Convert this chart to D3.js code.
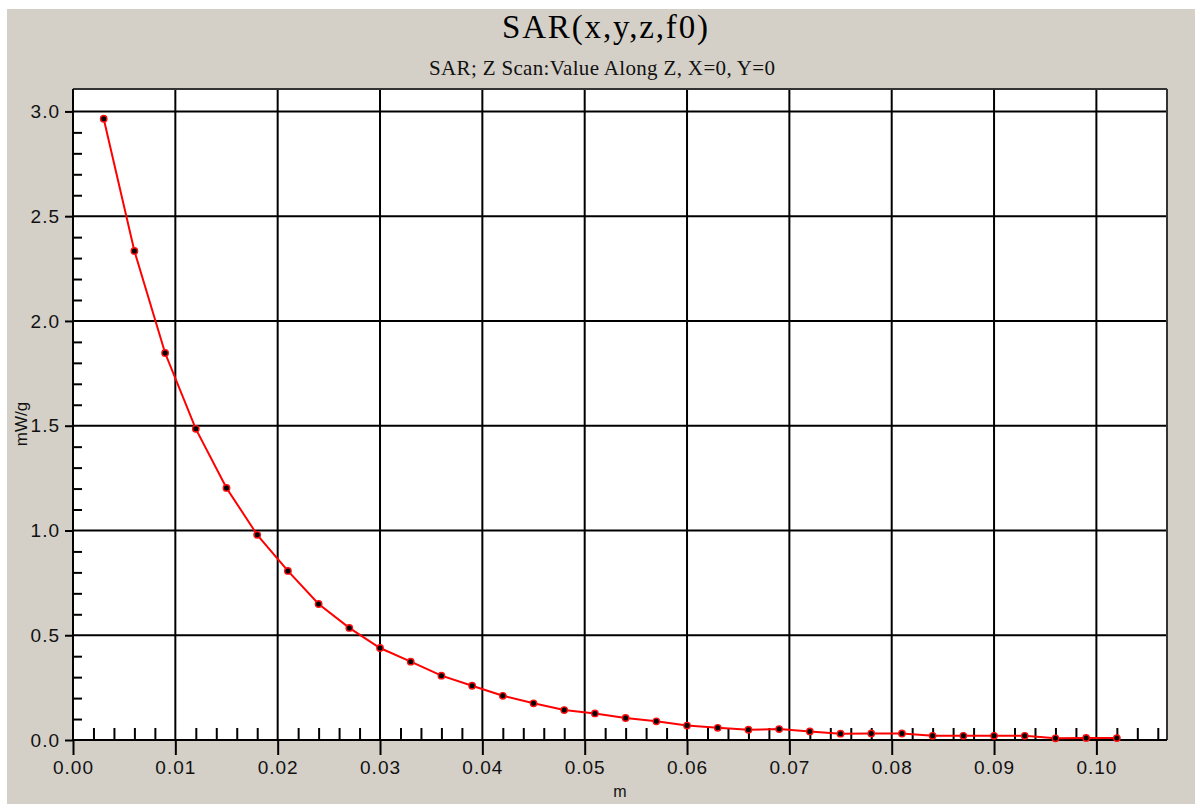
<!DOCTYPE html>
<html>
<head>
<meta charset="utf-8">
<script src="https://cdn.jsdelivr.net/npm/d3@7"></script>
<style>
html,body{margin:0;padding:0;background:#fff;overflow:hidden;}
svg{display:block;}
</style>
</head>
<body>
<svg id="chart" width="1195" height="804"></svg>
<script>
// ---- data ----
const titleText = "SAR(x,y,z,f0)";
const subtitleText = "SAR; Z Scan:Value Along Z, X=0, Y=0";
const xLabel = "m";
const yLabel = "mW/g";
const zPositions = [0.003,0.006,0.009,0.012,0.015,0.018,0.021,0.024,0.027,0.030,
  0.033,0.036,0.039,0.042,0.045,0.048,0.051,0.054,0.057,0.060,
  0.063,0.066,0.069,0.072,0.075,0.078,0.081,0.084,0.087,0.090,
  0.093,0.096,0.099,0.102];
const sarValues = [2.965,2.334,1.847,1.485,1.203,0.979,0.807,0.649,0.535,0.439,
  0.374,0.307,0.259,0.211,0.175,0.143,0.127,0.105,0.089,0.069,
  0.058,0.049,0.052,0.041,0.030,0.031,0.031,0.020,0.020,0.020,
  0.020,0.008,0.010,0.009];
const xMajorTicks = [0.00,0.01,0.02,0.03,0.04,0.05,0.06,0.07,0.08,0.09,0.10];
const yMajorTicks = [0.0,0.5,1.0,1.5,2.0,2.5,3.0];
const xDomain = [0, 0.1069];
const yDomain = [0, 3.107];

// ---- layout ----
const svg = d3.select("#chart");
const W = 1195, H = 804;
const pL = 73, pR = 1167, pT = 89, pB = 740;

svg.append("rect").attr("x",7).attr("y",9).attr("width",W-7).attr("height",H-9).attr("fill","#d4d0c8");
svg.append("rect").attr("x",pL).attr("y",pT).attr("width",pR-pL).attr("height",pB-pT).attr("fill","#fff");

const x = d3.scaleLinear().domain(xDomain).range([pL, pR]);
const y = d3.scaleLinear().domain(yDomain).range([pB, pT]);

const xMinor = d3.range(0, 107).filter(i => i % 2 === 0 && i % 10 !== 0).map(i => i/1000);
const yMinor = d3.range(0, 31).filter(i => i % 5 !== 0).map(i => i/10);

// grid
const g = svg.append("g");
g.selectAll(".vg").data(xMajorTicks.slice(1)).enter().append("line")
  .attr("x1", d => x(d)).attr("x2", d => x(d)).attr("y1", pT).attr("y2", pB)
  .attr("stroke","#000").attr("stroke-width",2);
g.selectAll(".hg").data(yMajorTicks.slice(1)).enter().append("line")
  .attr("x1", pL).attr("x2", pR).attr("y1", d => y(d)).attr("y2", d => y(d))
  .attr("stroke","#000").attr("stroke-width",2);

// border top/right
svg.append("line").attr("x1",pL).attr("x2",pR).attr("y1",pT).attr("y2",pT).attr("stroke","#333").attr("stroke-width",2);
svg.append("line").attr("x1",pR).attr("x2",pR).attr("y1",pT).attr("y2",pB).attr("stroke","#333").attr("stroke-width",2);

// x axis
const xAxis = d3.axisBottom(x).tickValues(xMajorTicks).tickFormat(d3.format(".2f")).tickSize(15).tickPadding(6);
const xg = svg.append("g").attr("transform",`translate(0,${pB})`).call(xAxis);
xg.select(".domain").remove();
xg.selectAll(".tick line").attr("stroke","#000").attr("stroke-width",2);
xg.selectAll(".tick text").attr("fill","#111").style("font-family","'Liberation Sans', Arial, sans-serif").style("font-size","19px").style("letter-spacing","1px");
const xmg = svg.append("g").attr("transform",`translate(0,${pB})`).call(d3.axisTop(x).tickValues(xMinor).tickSize(12).tickFormat(""));
xmg.select(".domain").remove();
xmg.selectAll(".tick line").attr("stroke","#000").attr("stroke-width",2);

// y axis
const yAxis = d3.axisLeft(y).tickValues(yMajorTicks).tickFormat(d3.format(".1f")).tickSize(8).tickPadding(5);
const yg = svg.append("g").attr("transform",`translate(${pL},0)`).call(yAxis);
yg.select(".domain").remove();
yg.selectAll(".tick line").attr("stroke","#000").attr("stroke-width",2);
yg.selectAll(".tick text").attr("fill","#111").style("font-family","'Liberation Sans', Arial, sans-serif").style("font-size","19px").style("letter-spacing","1px");
const ymg = svg.append("g").attr("transform",`translate(${pL},0)`).call(d3.axisRight(y).tickValues(yMinor).tickSize(9).tickFormat(""));
ymg.select(".domain").remove();
ymg.selectAll(".tick line").attr("stroke","#000").attr("stroke-width",2);

// axis lines
svg.append("line").attr("x1",pL).attr("x2",pR).attr("y1",pB).attr("y2",pB).attr("stroke","#000").attr("stroke-width",2);
svg.append("line").attr("x1",pL).attr("x2",pL).attr("y1",pT).attr("y2",pB).attr("stroke","#000").attr("stroke-width",2);

// data
const pts = zPositions.map((z,i) => [z, sarValues[i]]);
svg.append("path").datum(pts)
  .attr("d", d3.line().x(d => x(d[0])).y(d => y(d[1])))
  .attr("fill","none").attr("stroke","#ff0000").attr("stroke-width",2);
svg.selectAll(".pt").data(pts).enter().append("circle")
  .attr("cx", d => x(d[0])).attr("cy", d => y(d[1])).attr("r",3.2)
  .attr("fill","#000").attr("stroke","#ff1010").attr("stroke-width",1.4);

// titles
svg.append("text").attr("x",605).attr("y",38).attr("text-anchor","middle")
  .attr("textLength",206).attr("lengthAdjust","spacing")
  .style("font-family","'Liberation Serif','Times New Roman',serif").style("font-size","33px").attr("fill","#000")
  .text(titleText);
svg.append("text").attr("x",602).attr("y",75).attr("text-anchor","middle")
  .attr("textLength",346).attr("lengthAdjust","spacing")
  .style("font-family","'Liberation Serif','Times New Roman',serif").style("font-size","21px").attr("fill","#111")
  .text(subtitleText);

// axis titles
svg.append("text").attr("x",(pL+pR)/2).attr("y",797).attr("text-anchor","middle")
  .style("font-family","'Liberation Sans', Arial, sans-serif").style("font-size","16px").attr("fill","#111").text(xLabel);
svg.append("text").attr("transform",`translate(27,424) rotate(-90)`).attr("text-anchor","middle")
  .style("font-family","'Liberation Sans', Arial, sans-serif").style("font-size","17px").attr("fill","#111").text(yLabel);
</script>
</body>
</html>
